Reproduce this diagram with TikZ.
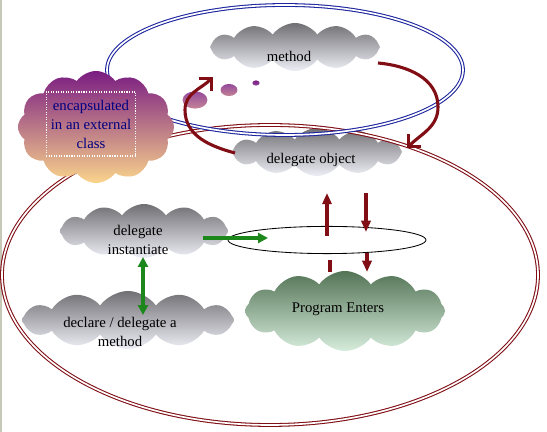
\documentclass[tikz,border=0pt]{standalone}
\usepackage{fontspec}
\setmainfont{Liberation Serif}
\usetikzlibrary{shapes.symbols,shapes.geometric,arrows.meta}
\definecolor{cloudtop}{RGB}{112,112,116}
\definecolor{cloudbot}{RGB}{238,238,246}
\definecolor{greentop}{RGB}{84,116,86}
\definecolor{greenbot}{RGB}{214,236,220}
\definecolor{purpletop}{RGB}{122,28,130}
\definecolor{purplemid}{RGB}{196,132,150}
\definecolor{purplebot}{RGB}{250,212,140}
\definecolor{darkred}{RGB}{128,14,20}
\definecolor{ringblue}{RGB}{28,36,158}
\definecolor{arrowgreen}{RGB}{28,136,28}
\definecolor{navytext}{RGB}{0,0,128}
\definecolor{edgegray}{RGB}{200,200,184}

\begin{document}
\begin{tikzpicture}[
  every node/.style={font=\fontsize{10.5}{13.5}\selectfont, align=center},
  puffy/.style={cloud, cloud puffs=12, cloud puff arc=110, cloud ignores aspect, inner sep=0pt},
  grayc/.style={puffy, top color=cloudtop, bottom color=cloudbot},
  greenc/.style={puffy, top color=greentop, bottom color=greenbot},
  ring/.style={ellipse, draw=#1, line width=0.75pt, double=white, double distance=1.2pt, inner sep=0pt},
  bubble/.style={ellipse, inner sep=0pt, top color=purpletop!80, bottom color=purplemid},
  redarrow/.style={-{Triangle[width=6.5pt,length=8pt]}, line width=2.2pt, darkred},
  loopto/.style={-{Straight Barb[width=13pt,length=6.5pt]}, line width=2.2pt, darkred},
  greenarrow/.style={-{Triangle[width=7pt,length=7pt]}, line width=2.6pt, arrowgreen}
]
\useasboundingbox (0,0) rectangle (13.675,10.8);
\fill[white] (0,0) rectangle (13.675,10.8);
\draw[edgegray, line width=1.4pt] (0.02,0) -- (0.02,10.8);

% Upper part: method and delegate object
\node[grayc, minimum width=4.25cm, minimum height=1.2cm] (objcloud) at (7.925, 7.0) {};
\node[ring=darkred, minimum width=13.4cm, minimum height=7.5cm] (classring) at (6.75, 3.925) {};
\node[ring=ringblue, minimum width=8.9cm, minimum height=3.25cm] (methodring) at (7.125, 9.05) {};
\node[grayc, minimum width=4.25cm, minimum height=1.2cm] (methodcloud) at (7.375, 9.625) {};
\node (methodlbl) at (7.225, 9.4) {method};
\node (objlbl) at (7.775, 6.8) {delegate object};

% External class
\node[puffy, minimum width=3.9cm, minimum height=2.8cm, top color=purpletop, middle color=purplemid, bottom color=purplebot] (encapcloud) at (2.4, 7.625) {};
\node[draw=white, densely dotted, thick, minimum width=2.2cm, minimum height=1.6cm, text=navytext] (encaplbl) at (2.275, 7.7) {encapsulated\\in an external\\class};
\node[bubble, minimum width=0.62cm, minimum height=0.43cm] (bubbleA) at (4.875, 8.3) {};
\node[bubble, minimum width=0.42cm, minimum height=0.3cm] (bubbleB) at (5.725, 8.55) {};
\node[bubble, minimum width=0.18cm, minimum height=0.13cm, top color=purpletop, bottom color=purpletop!80] (bubbleC) at (6.4, 8.725) {};

% Lower part: inside the class
\node[grayc, minimum width=4.2cm, minimum height=1.35cm] (instcloud) at (3.6, 5.025) {};
\node (instlbl) at (3.45, 4.8) {delegate\\instantiate};
\node[grayc, minimum width=5.3cm, minimum height=1.45cm] (declcloud) at (3.2, 2.8) {};
\node (decllbl) at (3.0, 2.5) {declare / delegate a\\method};
\node[greenc, minimum width=5.0cm, minimum height=2.0cm] (progcloud) at (8.625, 3.025) {};
\node (proglbl) at (8.45, 3.075) {Program Enters};
\node[ellipse, draw, semithick, minimum width=4.95cm, minimum height=0.68cm, inner sep=0pt] (callring) at (8.175, 4.8) {};

% Calls around the loop
\coordinate (upfrom) at (8.175, 4.9);
\coordinate (upto) at (8.175, 5.975);
\coordinate (downfrom) at (9.15, 5.975);
\coordinate (downto) at (9.15, 5.0);
\coordinate (stubtop) at (8.25, 4.3);
\coordinate (stubbot) at (8.25, 4.0);
\coordinate (enterfrom) at (9.175, 4.475);
\coordinate (enterto) at (9.175, 4.0);
\draw[redarrow] (upfrom) -- (upto);
\draw[redarrow] (downfrom) -- (downto);
\draw[line width=2.2pt, darkred] (stubtop) -- (stubbot);
\draw[redarrow] (enterfrom) -- (enterto);

% Green links
\coordinate (instout) at (5.075, 4.85);
\coordinate (instin) at (6.7, 4.85);
\coordinate (insttop) at (3.575, 4.375);
\coordinate (declbot) at (3.575, 2.925);
\draw[greenarrow] (instout) -- (instin);
\draw[greenarrow, {Triangle[width=7pt,length=7pt]}-{Triangle[width=7pt,length=7pt]}] (insttop) -- (declbot);

% Loop between method and delegate object
\coordinate (methodout) at (9.45, 9.225);
\coordinate (objin) at (10.175, 7.1);
\coordinate (objout) at (5.875, 6.975);
\coordinate (methodin) at (5.325, 8.875);
\draw[loopto] (methodout) to[out=-5, in=90] (10.95, 8.125) to[out=-90, in=45] (objin);
\draw[loopto] (objout) to[out=165, in=-90] (4.625, 8.05) to[out=90, in=225] (methodin);
\end{tikzpicture}
\end{document}
